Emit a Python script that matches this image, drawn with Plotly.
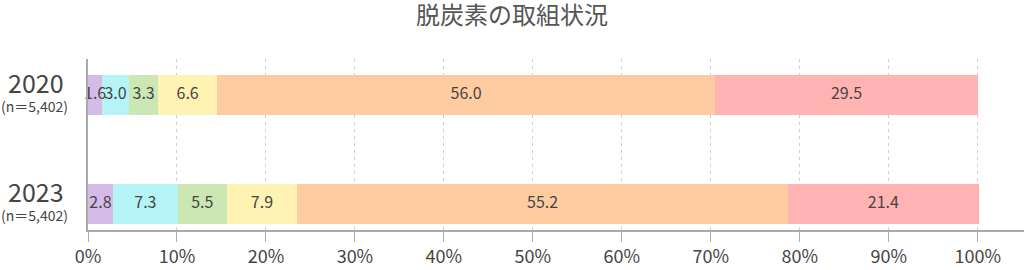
import plotly.graph_objects as go

title = "脱炭素の取組状況"
years = ["2020", "2023"]
sample_labels = ["(n＝5,402)", "(n＝5,402)"]
series_names = ["s1", "s2", "s3", "s4", "s5", "s6"]
values_2020 = [1.6, 3.0, 3.3, 6.6, 56.0, 29.5]
values_2023 = [2.8, 7.3, 5.5, 7.9, 55.2, 21.4]
colors = ["#d4bbe8", "#b4f4f6", "#cce6b4", "#fff3b3", "#ffcca1", "#ffb3b3"]
xticks = [0, 10, 20, 30, 40, 50, 60, 70, 80, 90, 100]
xticklabels = [f"{v}%" for v in xticks]

FONT = "Noto Sans CJK JP"
TXT = "#454545"
cat_order = ["2023", "2020"]  # bottom to top

fig = go.Figure()
all_vals = [values_2020, values_2023]
for i, name in enumerate(series_names):
    vals = [values_2020[i], values_2023[i]]
    fig.add_trace(go.Bar(
        y=years, x=vals, orientation="h", name=name,
        marker=dict(color=colors[i], line=dict(width=0)),
        hoverinfo="skip",
    ))

# value labels on top of all bars, centred in each segment
lx, ly, lt = [], [], []
for y, vals in zip(years, all_vals):
    cum = 0.0
    for v in vals:
        lx.append(cum + v / 2)
        ly.append(y)
        lt.append(f"{v:.1f}")
        cum += v
fig.add_trace(go.Scatter(
    x=lx, y=ly, mode="text", text=lt, textposition="middle center",
    textfont=dict(family=FONT, size=16, color=TXT),
    cliponaxis=False, hoverinfo="skip", showlegend=False,
))

annotations = []
for y, n in zip(years, sample_labels):
    annotations.append(dict(
        x=-(88 - 36) / 936, xref="paper", y=cat_order.index(y), yref="y",
        text=y, showarrow=False, xanchor="center", yanchor="middle", yshift=13,
        borderpad=0, font=dict(family=FONT, size=25, color=TXT),
    ))
    annotations.append(dict(
        x=-(88 - 34) / 936, xref="paper", y=cat_order.index(y), yref="y",
        text=n, showarrow=False, xanchor="center", yanchor="middle", yshift=-11,
        borderpad=0, font=dict(family=FONT, size=14, color=TXT),
    ))

fig.update_layout(
    width=1024, height=270,
    barmode="stack", bargap=0.633,
    showlegend=False,
    plot_bgcolor="white", paper_bgcolor="white",
    margin=dict(l=88, r=0, t=59, b=40),
    title=dict(text=title, x=0.5, xanchor="center", y=1 - 16 / 270, yanchor="middle",
               font=dict(family=FONT, size=24, color="#555555")),
    xaxis=dict(range=[0, 105.2], tickvals=xticks, ticktext=xticklabels,
               showgrid=True, gridcolor="#cfcfcf", griddash="3px,4px", gridwidth=1,
               showline=True, linecolor="#aaaaaa", linewidth=1.5,
               ticks="outside", ticklen=10, tickcolor="#aaaaaa",
               tickfont=dict(family=FONT, size=18, color=TXT),
               zeroline=False, fixedrange=True),
    yaxis=dict(type="category", categoryorder="array", categoryarray=cat_order,
               range=[-0.24, 1.33], showticklabels=False,
               showline=True, linecolor="#aaaaaa", linewidth=1.5,
               showgrid=False, zeroline=False, ticks=""),
    annotations=annotations,
)

fig.write_html("out.html")
